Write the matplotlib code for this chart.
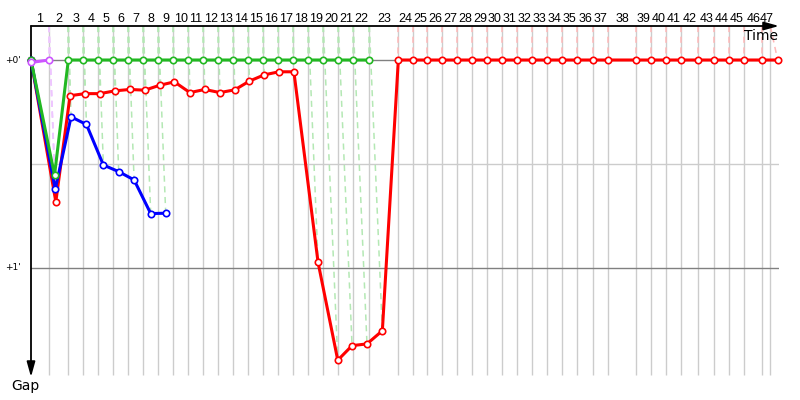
import matplotlib
matplotlib.use('Agg')
import matplotlib.pyplot as plt

# leader's race time (s) at the end of each lap 1..47
lap_end = [108, 224, 314, 404, 494, 584, 674, 764, 854, 944,
           1034, 1124, 1214, 1304, 1394, 1484, 1574, 1664, 1754, 1844,
           1934, 2030, 2204, 2290, 2378, 2468, 2558, 2648, 2738, 2828,
           2918, 3008, 3098, 3188, 3278, 3374, 3464, 3628, 3720, 3810,
           3902, 4004, 4100, 4190, 4280, 4388, 4436]
lap_labels = [str(i) for i in range(1, 48)]

# gap to leader (s), index 0 = start, then lap 1, 2, ...
violet_gap = [0.7, 0.0]
green_gap = [0.0, 33.2, 0.0, 0.0, 0.0, 0.0, 0.0, 0.0, 0.0, 0.0, 0.0, 0.0,
             0.0, 0.0, 0.0, 0.0, 0.0, 0.0, 0.0, 0.0, 0.0, 0.0, 0.0]
blue_gap = [0.0, 37.3, 16.4, 18.6, 30.3, 32.2, 34.6, 44.3, 44.2]
red_gap = [0.0, 40.9, 10.3, 9.7, 9.7, 8.9, 8.5, 8.7, 7.3, 6.3, 9.4, 8.5,
           9.4, 8.6, 6.1, 4.3, 3.4, 3.4, 58.4, 86.6, 82.4, 81.9, 78.1,
           0.0, 0.0, 0.0, 0.0, 0.0, 0.0, 0.0, 0.0, 0.0, 0.0, 0.0, 0.0,
           0.0, 0.0, 0.0, 0.0, 0.0, 0.0, 0.0, 0.0, 0.0, 0.0, 0.0, 0.0, 0.0]
red_finish_time = 4480

# who leads which laps (last lap of each spell)
leader_spells = [(1, 'violet'), (22, 'green'), (47, 'red')]

colors = {'violet': '#cc55ff', 'green': '#22b822', 'blue': '#0000ff', 'red': '#ff0000'}
light = {'violet': '#eec6ff', 'green': '#b4e8b4', 'red': '#ffb8b8'}

Y_TOP = -9.81
Y_BOT = 91.45
TIME_PER_GAP = 1.0  # x offset of a point = its gap (both in seconds)

fig = plt.figure(figsize=(8, 4), dpi=100)
ax = fig.add_axes([31 / 800, 23 / 400, 748 / 800, 351 / 400])
ax.set_xlim(0, 4488)
ax.set_ylim(Y_BOT, Y_TOP)
for s in ax.spines.values():
    s.set_visible(False)
ax.set_xticks([])
ax.set_yticks([])

# grid
ax.vlines(lap_end, Y_TOP, 90.9, color='#cccccc', lw=1, zorder=1)
ax.axhline(30, color='#cccccc', lw=1, zorder=1)
ax.axhline(0, color='#808080', lw=1, zorder=1)
ax.axhline(60, color='#808080', lw=1, zorder=1)


def leader_of(lap):
    for last, name in leader_spells:
        if lap <= last:
            return name
    return leader_spells[-1][1]


series = [('red', red_gap), ('blue', blue_gap), ('green', green_gap), ('violet', violet_gap)]
positions = {}
for name, gaps in series:
    xs = [0.0] + [lap_end[i - 1] + gaps[i] * TIME_PER_GAP for i in range(1, len(gaps))]
    if name == 'red':
        xs[-1] = red_finish_time
    positions[name] = xs

# dashed lines from the leader's crossing on the time axis to each car
for name, gaps in series:
    xs = positions[name]
    for i in range(1, len(gaps)):
        ax.plot([lap_end[i - 1], xs[i]], [Y_TOP, gaps[i]], ls=(0, (4, 3)),
                color=light[leader_of(i)], lw=1.1, zorder=2, clip_on=False)

for k, (name, gaps) in enumerate(series):
    ax.plot(positions[name], gaps, '-o', color=colors[name], lw=2.2, ms=4.6,
            mfc='white', mec=colors[name], mew=1.2, zorder=3 + k, clip_on=False)

# lap numbers on top
starts = [0] + lap_end[:-1]
for a, b, lab in zip(starts, lap_end, lap_labels):
    ax.text((a + b) / 2, -11.0, lab, ha='center', va='baseline', fontsize=9,
            family=['Liberation Sans', 'DejaVu Sans'])

# gap ticks
ax.text(-60, 0, "+0'", ha='right', va='center', fontsize=6.5)
ax.text(-60, 60, "+1'", ha='right', va='center', fontsize=6.5)

# axes arrows
arrow = dict(arrowstyle='-|>,head_length=0.9,head_width=0.25', mutation_scale=10,
             color='black', lw=1.3, shrinkA=0, shrinkB=0)
ax.annotate('', xy=(1, 1), xytext=(0, 1), xycoords='axes fraction', arrowprops=arrow)
ax.annotate('', xy=(0, 0), xytext=(0, 1), xycoords='axes fraction', arrowprops=arrow)

ax.text(4484, -5.8, 'Time', ha='right', va='baseline', fontsize=10)
fig.text(11 / 800, 10 / 400, 'Gap', ha='left', va='baseline', fontsize=10)

fig.savefig('out.png', dpi=100)
